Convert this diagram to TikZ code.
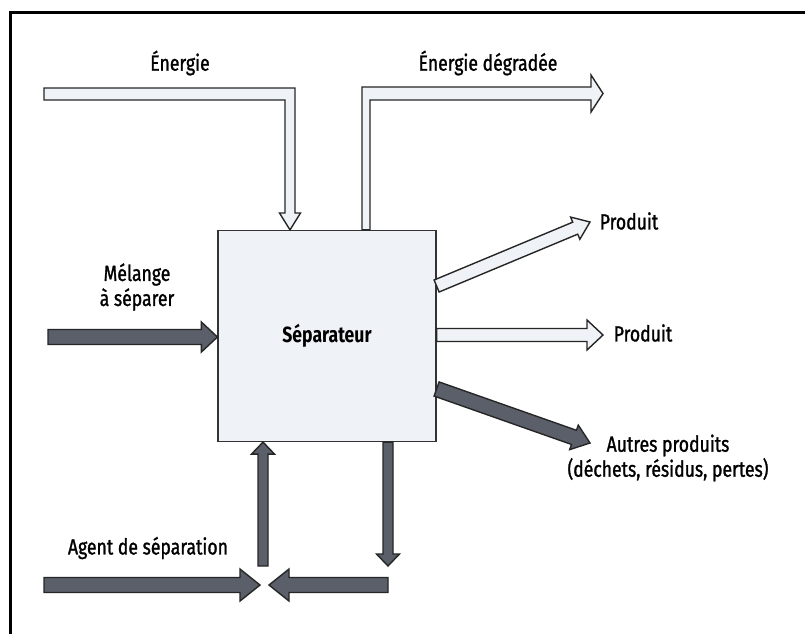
\documentclass[tikz,border=0pt]{standalone}
\usepackage{fontspec}
\setmainfont{Fira Sans}[FakeStretch=0.8]
\newfontfamily\lblfont{Fira Sans}[FakeStretch=0.8, FakeBold=1.2]
\usetikzlibrary{calc,positioning}
\definecolor{boxfill}{RGB}{239,242,246}
\definecolor{darkfill}{RGB}{90,95,105}
\tikzset{lbl/.style={inner sep=0pt, font=\lblfont\fontsize{22}{25}\selectfont, align=center},
    sepbox/.style={draw=black!80, line width=1.2pt, fill=boxfill, minimum width=218pt,
                   minimum height=211pt, font=\fontsize{22}{25}\selectfont\bfseries},
    hollow/.style={draw=black!85, line width=1.4pt, fill=boxfill, line join=miter},
    solid/.style={draw=black!85, line width=1.4pt, fill=darkfill, line join=miter}}
% block arrow: style, from, to, shaft half width, head half width, head length
\newcommand\blockarrow[6]{%
  \coordinate (bh) at ($(#3)!#6!(#2)$);
  \draw[#1] ($(#2)!#4!90:(#3)$) -- ($(bh)!#4!-90:(#2)$) -- ($(bh)!#5!-90:(#2)$) -- (#3)
            -- ($(bh)!#5!90:(#2)$) -- ($(bh)!#4!90:(#2)$) -- ($(#2)!#4!-90:(#3)$) -- cycle;
}

\begin{document}
\begin{tikzpicture}[x=1pt, y=-1pt]
    \clip (0,0) rectangle (805,633);
    \fill[white] (0,0) rectangle (805,633);
    \draw[line width=3pt] (10,12) rectangle (840,680);

    \node[sepbox] (sep) at (327,336) {Séparateur};

    % labels
    \node[lbl] (energie) at (180,63) {Énergie};
    \node[lbl] (degradee) at (488,63) {Énergie dégradée};
    \node[lbl] (melange) at (137,287) {Mélange\\à séparer};
    \node[lbl] (prod1) at (629,221) {Produit};
    \node[lbl] (prod2) at (643,333) {Produit};
    \node[lbl] (autres) at (668,458) {Autres produits\\(déchets, résidus, pertes)};
    \node[lbl] (agent) at (148,548) {Agent de séparation};

    % energy in and out
    \draw[hollow] (44,88) -- (295,88) -- (295,213) -- (300.5,213) -- (290,0 |- sep.north)
        -- (279.5,213) -- (285,213) -- (285,100) -- (44,100) -- cycle;
    \draw[hollow] (362,0 |- sep.north) -- (362,87) -- (591,87) -- (591,75) -- (603,93.5)
        -- (591,112) -- (591,100) -- (370,100) -- (370,0 |- sep.north) -- cycle;

    % feed and products
    \coordinate (feed) at (48,337);
    \coordinate (p1a) at ($(sep.east)+(0,-50)$);
    \coordinate (p1b) at (590,222);
    \coordinate (p2a) at ($(sep.east)+(0,-1)$);
    \coordinate (p2b) at (603,335);
    \coordinate (p3a) at ($(sep.east)+(0,53)$);
    \coordinate (p3b) at (590,443);
    \blockarrow{solid}{feed}{feed -| sep.west}{7.5pt}{15pt}{16pt}
    \blockarrow{hollow}{p1a}{p1b}{6.5pt}{12pt}{16pt}
    \blockarrow{hollow}{p2a}{p2b}{6.5pt}{15pt}{16pt}
    \blockarrow{solid}{p3a}{p3b}{7.5pt}{13pt}{17pt}

    % separation agent loop
    \coordinate (up) at (263,566);
    \coordinate (down) at (388,0 |- sep.south);
    \coordinate (ina) at (44,585);
    \coordinate (inb) at (260,585);
    \coordinate (reta) at (388,585);
    \coordinate (retb) at (269,585);
    \blockarrow{solid}{up}{up |- sep.south}{5pt}{11.5pt}{12pt}
    \blockarrow{solid}{down}{388,566}{5pt}{11.5pt}{12pt}
    \blockarrow{solid}{ina}{inb}{7.5pt}{16pt}{20pt}
    \blockarrow{solid}{reta}{retb}{7.5pt}{16pt}{20pt}
\end{tikzpicture}
\end{document}
